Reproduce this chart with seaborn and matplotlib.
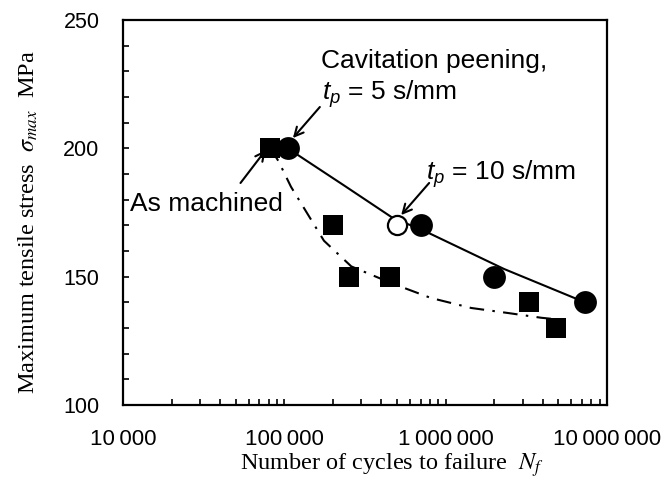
import numpy as np
import pandas as pd
import matplotlib
matplotlib.use("Agg")
import matplotlib.pyplot as plt
from matplotlib.ticker import FixedLocator, LogLocator, NullFormatter, FixedFormatter
import seaborn as sns

# As machined (squares)
machined_cycles = [82000, 200000, 250000, 450000, 3300000, 4800000]
machined_stress = [200, 170, 150, 150, 140, 130]

# Cavitation peening tp = 5 s/mm (filled circles)
cp5_cycles = [105000, 700000, 2000000, 7300000]
cp5_stress = [200, 170, 150, 140]

# Cavitation peening tp = 10 s/mm (open circle)
cp10_cycles = [500000]
cp10_stress = [170]

# trend curves
cp_curve_x = [105000, 235000, 480000, 690000, 2300000, 7300000]
cp_curve_y = [200, 185.5, 172.5, 168.7, 153, 140]
am_curve_x = [82000, 92000, 110000, 176000, 260000, 460000, 810000, 1440000, 2460000, 3900000, 5000000]
am_curve_y = [200, 195, 185, 164, 154, 147.5, 141.7, 137.8, 135.8, 134, 133.3]

x_ticks = [1e4, 1e5, 1e6, 1e7]
x_tick_labels = ["10\u2009000", "100\u2009000", "1\u2009000\u2009000", "10\u2009000\u2009000"]
y_ticks = [100, 150, 200, 250]

sns.set_style("white")
plt.rcParams["font.family"] = ["Liberation Sans", "DejaVu Sans"]
plt.rcParams["mathtext.fontset"] = "custom"
plt.rcParams["mathtext.it"] = "Liberation Sans:italic"
plt.rcParams["mathtext.rm"] = "Liberation Sans"
for k in ["text.color", "axes.labelcolor", "xtick.color", "ytick.color"]:
    plt.rcParams[k] = "black"

fig = plt.figure(figsize=(6.65, 4.91), dpi=100)
ax = fig.add_axes([123 / 665, 1 - 405 / 491, 484 / 665, 385 / 491])
ax.set_xscale("log")

sns.lineplot(x=cp_curve_x, y=cp_curve_y, sort=False, estimator=None, color="black",
             linewidth=1.5, ax=ax, zorder=2)
sns.lineplot(x=am_curve_x, y=am_curve_y, sort=False, estimator=None, color="black",
             linewidth=1.5, ax=ax, zorder=2)
ax.lines[-1].set_dashes([7, 4, 1.2, 4])

sns.scatterplot(x=machined_cycles, y=machined_stress, marker="s", s=210, color="black",
                edgecolor="black", linewidth=0, ax=ax, zorder=4)
sns.scatterplot(x=cp5_cycles, y=cp5_stress, marker="o", s=270, color="black",
                edgecolor="black", linewidth=0, ax=ax, zorder=4)
sns.scatterplot(x=cp10_cycles, y=cp10_stress, marker="o", s=190, color="white",
                edgecolor="black", linewidth=1.6, ax=ax, zorder=4)

ax.set_xlim(1e4, 1e7)
ax.set_ylim(100, 250)

ax.xaxis.set_major_locator(FixedLocator(x_ticks))
ax.xaxis.set_major_formatter(FixedFormatter(x_tick_labels))
ax.xaxis.set_minor_locator(LogLocator(base=10, subs=np.arange(2, 10)))
ax.xaxis.set_minor_formatter(NullFormatter())
ax.set_yticks(y_ticks)
ax.yaxis.set_minor_locator(FixedLocator(np.arange(100, 251, 10)))

ax.tick_params(axis="x", which="both", direction="in", length=4, width=1.2,
               labelsize=16, pad=17, top=False, bottom=True)
ax.tick_params(axis="y", which="both", direction="in", length=4, width=1.2,
               labelsize=15.5, pad=17, left=True, right=False)
for s in ax.spines.values():
    s.set_linewidth(1.6)
    s.set_color("black")

ax.set_xlabel("Number of cycles to failure  $N_f$", fontsize=17.5,
              family="Liberation Serif", math_fontfamily="stix")
ax.xaxis.set_label_coords(0.556, -0.156)
ax.set_ylabel("Maximum tensile stress  $\\sigma_{max}$  MPa", fontsize=17.5,
              family="Liberation Serif", math_fontfamily="stix")
ax.yaxis.set_label_coords(-0.196, 0.475)
ax.xaxis.label.set_va("center")
ax.yaxis.label.set_va("center")

arrow = dict(arrowstyle="->", color="black", lw=1.5, shrinkA=0, shrinkB=0,
             mutation_scale=16)
ax.annotate("", xy=(76600, 199.3), xytext=(53500, 186.5), arrowprops=arrow)
ax.annotate("", xy=(113000, 204), xytext=(166000, 216.1), arrowprops=arrow)
ax.annotate("", xy=(530000, 174), xytext=(790000, 186.5), arrowprops=arrow)

ax.text(11000, 178.3, "As machined", fontsize=19, va="center", ha="left", zorder=5)
ax.text(168000, 231.3, "Cavitation peening,", fontsize=19, va="baseline", ha="left")
ax.text(170000, 218.8, "$t_p$ = 5 s/mm", fontsize=19, va="baseline", ha="left")
ax.text(757000, 187.6, "$t_p$ = 10 s/mm", fontsize=19, va="baseline", ha="left")

fig.savefig("out.png", dpi=100)
